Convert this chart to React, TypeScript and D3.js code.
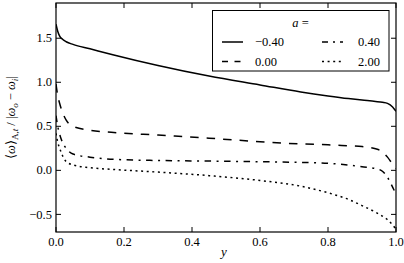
import React from 'react';
import * as d3 from 'd3';

// sample positions along y, shared by all four curves
const yGrid = [0, 0.005, 0.01, 0.02, 0.03, 0.05, 0.1, 0.17, 0.3, 0.45, 0.6, 0.72, 0.8, 0.86, 0.9, 0.94, 0.96, 0.975, 0.99, 1.0];

const aNeg040 = [1.66, 1.58, 1.53, 1.485, 1.46, 1.43, 1.38, 1.31, 1.19, 1.07, 0.97, 0.89, 0.845, 0.815, 0.798, 0.782, 0.772, 0.76, 0.72, 0.67];
const a000 = [0.98, 0.85, 0.77, 0.65, 0.57, 0.5, 0.455, 0.43, 0.4, 0.365, 0.325, 0.3, 0.29, 0.278, 0.27, 0.245, 0.21, 0.15, 0.07, 0.02];
const a040 = [0.62, 0.5, 0.42, 0.31, 0.25, 0.185, 0.15, 0.125, 0.112, 0.105, 0.098, 0.09, 0.08, 0.06, 0.04, 0.02, -0.01, -0.08, -0.19, -0.27];
const a200 = [0.42, 0.32, 0.26, 0.16, 0.1, 0.062, 0.03, 0.01, -0.02, -0.06, -0.115, -0.18, -0.255, -0.33, -0.4, -0.475, -0.52, -0.56, -0.62, -0.67];

const seriesLabels = ['\u22120.40', '0.00', '0.40', '2.00'];
const xTicks = [0, 0.2, 0.4, 0.6, 0.8, 1.0];
const yTicks = [-0.5, 0, 0.5, 1.0, 1.5];

const W = 404;
const H = 263;
const margin = { top: 3, right: 8, bottom: 31, left: 56 };
const innerW = W - margin.left - margin.right;
const innerH = H - margin.top - margin.bottom;

const fs = 12.5;

const dashes = ['none', '8.5,8', '6.5,5.5,2,5.5', '2,3.6'];
const legendDashes = ['none', '6,6.5', '6,5,2,5', '2,3.6'];

export default function App() {
  const x = d3.scaleLinear().domain([0, 1]).range([0, innerW]);
  const y = d3.scaleLinear().domain([-0.7, 1.9]).range([innerH, 0]);

  const line = d3
    .line<number>()
    .x((d, i) => x(yGrid[i]))
    .y(d => y(d))
    .curve(d3.curveMonotoneX);

  const series = [aNeg040, a000, a040, a200];

  // legend: two columns, column-major order
  const legendX = [222, 322];
  const labelX = [255, 358];
  const rowY = [42, 61.5];

  return (
    <svg
      width={W}
      height={H}
      style={{ position: 'absolute', left: 0, top: 0, background: '#fff', fontFamily: 'Liberation Serif, serif' }}
    >
      <defs>
        <clipPath id="plot">
          <rect x={0} y={0} width={innerW} height={innerH} />
        </clipPath>
      </defs>
      <g transform={`translate(${margin.left},${margin.top})`} fontSize={fs}>
        <g clipPath="url(#plot)">
          {series.map((s, i) => (
            <path key={i} d={line(s) || ''} fill="none" stroke="#000" strokeWidth={1.5} strokeDasharray={dashes[i]} />
          ))}
        </g>

        {/* ticks point inward on all four sides */}
        {xTicks.map(t => (
          <g key={'x' + t}>
            <line x1={x(t)} x2={x(t)} y1={innerH} y2={innerH - 5} stroke="#000" />
            <line x1={x(t)} x2={x(t)} y1={0} y2={5} stroke="#000" />
            <text x={x(t)} y={innerH + 14} textAnchor="middle">
              {t.toFixed(1)}
            </text>
          </g>
        ))}
        {yTicks.map(t => (
          <g key={'y' + t}>
            <line x1={0} x2={5} y1={y(t)} y2={y(t)} stroke="#000" />
            <line x1={innerW} x2={innerW - 5} y1={y(t)} y2={y(t)} stroke="#000" />
            <text x={-4} y={y(t)} dy="0.33em" textAnchor="end">
              {t < 0 ? '\u2212' + Math.abs(t).toFixed(1) : t.toFixed(1)}
            </text>
          </g>
        ))}
        <rect x={0} y={0} width={innerW} height={innerH} fill="none" stroke="#000" strokeWidth={1.2} />

        <text x={innerW / 2 - 2} y={innerH + 24} textAnchor="middle" fontStyle="italic" fontSize={13}>
          y
        </text>
        <text transform={`translate(${15 - margin.left},${innerH / 2}) rotate(-90)`} textAnchor="middle" fontSize={12.5}>
          <tspan>{'\u27E8'}</tspan>
          <tspan fontStyle="italic">{'\u03C9'}</tspan>
          <tspan>{'\u27E9'}</tspan>
          <tspan dy={3} fontSize={9}>A,</tspan>
          <tspan fontSize={9} fontStyle="italic">t</tspan>
          <tspan dy={-3}>{' / |'}</tspan>
          <tspan fontStyle="italic">{'\u03C9'}</tspan>
          <tspan dy={3} fontSize={9} fontStyle="italic">o</tspan>
          <tspan dy={-3}>{' \u2212 '}</tspan>
          <tspan fontStyle="italic">{'\u03C9'}</tspan>
          <tspan dy={3} fontSize={9} fontStyle="italic">i</tspan>
          <tspan dy={-3}>|</tspan>
        </text>
      </g>

      <g fontSize={fs}>
        <rect x={212.5} y={10.5} width={176.5} height={60.5} fill="#fff" stroke="#000" strokeWidth={1} />
        <text x={300.5} y={27} textAnchor="middle">
          <tspan fontStyle="italic">a</tspan> =
        </text>
        {seriesLabels.map((lab, i) => {
          const col = Math.floor(i / 2);
          const row = i % 2;
          return (
            <g key={lab}>
              <line
                x1={legendX[col]}
                x2={legendX[col] + 21}
                y1={rowY[row]}
                y2={rowY[row]}
                stroke="#000"
                strokeWidth={1.5}
                strokeDasharray={legendDashes[i]}
              />
              <text x={labelX[col]} y={rowY[row]} dy="0.33em">
                {lab}
              </text>
            </g>
          );
        })}
      </g>
    </svg>
  );
}
